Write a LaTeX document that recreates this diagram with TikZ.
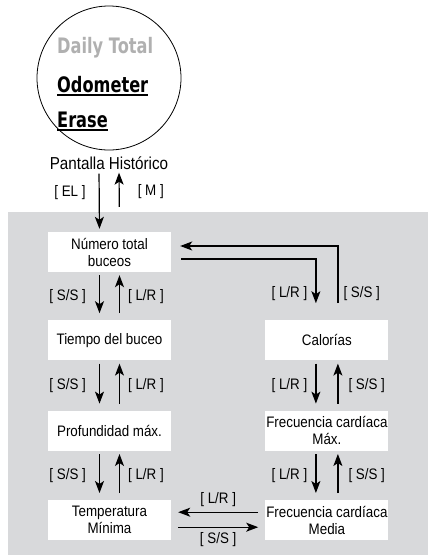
\documentclass[tikz,border=0pt]{standalone}
\usepackage{fontspec}
\setmainfont[FakeStretch=0.88]{Liberation Sans}
\newfontfamily\lcdfont[FakeStretch=0.76]{DejaVu Sans}
\usepackage{tikz}
\usetikzlibrary{arrows.meta,
                positioning}
\definecolor{panel}{RGB}{216,217,219}
\definecolor{lcdgray}{RGB}{176,176,176}
\tikzstyle{arrow} = [line width=1.2pt,-{Stealth[length=12pt,width=9pt,inset=3pt]}]
\tikzstyle{box} = [fill=white, minimum width=123pt, minimum height=40pt, inner sep=0pt, align=center, font=\fontsize{15.2}{17}\selectfont]
\tikzstyle{lbl} = [inner sep=0pt, font=\fontsize{15.2}{17}\selectfont]
\tikzstyle{lcd} = [anchor=base west, inner sep=0pt, font=\lcdfont\bfseries\fontsize{21.3}{22}\selectfont]

\begin{document}
\begin{tikzpicture}[x=1pt,y=-1pt]
        \useasboundingbox (0,0) rectangle (428,555);
        \fill[panel] (8,212) rectangle (428,555);

        % display
        \node[circle, draw, line width=0.8pt, minimum size=144pt] (disp) at (109,78) {};
        \node[lcd, text=lcdgray] (l1) at (57,53) {Daily Total};
        \node[lcd] (l2) at (57,92) {Odometer};
        \node[lcd] (l3) at (57,127) {Erase};
        \draw[line width=1.8pt] ([yshift=-3pt]l2.base west) -- ([yshift=-3pt]l2.base east);
        \draw[line width=1.8pt] ([yshift=-3pt]l3.base west) -- ([yshift=-3pt]l3.base east);
        \node[inner sep=0pt, font=\fontsize{17.3}{20}\selectfont] (hist) at (109,163) {Pantalla Histórico};

        % screens
        \node[box] (h1) at (109.5,252) {Número total\\buceos};
        \node[box, below=48pt of h1] (h2) {Tiempo del buceo};
        \node[box, below=50pt of h2] (h3) {Profundidad máx.};
        \node[box, below=49pt of h3] (h4) {Temperatura\\Mínima};
        \node[box, right=94pt of h2] (h5) {Calorías};
        \node[box, below=50pt of h5] (h6) {Frecuencia cardíaca\\Máx.};
        \node[box, below=49pt of h6] (h7) {Frecuencia cardíaca\\Media};

        \draw[arrow, shorten <=4pt, shorten >=3pt] ([xshift=-10pt]hist.south) -- ([xshift=-10pt]h1.north) node[lbl, pos=0.37, left=13pt] {[ EL ]};
        \draw[arrow, shorten <=25pt, shorten >=3pt] ([xshift=10pt]h1.north) -- ([xshift=10pt]hist.south) node[lbl, pos=0.64, right=18pt] {[ M ]};

        \draw[arrow, shorten <=3pt, shorten >=7pt] ([xshift=-10pt]h1.south) -- ([xshift=-10pt]h2.north) node[lbl, midway, left=13pt] {[ S/S ]};
        \draw[arrow, shorten <=7pt, shorten >=3pt] ([xshift=10pt]h2.north) -- ([xshift=10pt]h1.south) node[lbl, midway, right=8pt] {[ L/R ]};
        \draw[arrow, shorten <=3pt, shorten >=7pt] ([xshift=-10pt]h2.south) -- ([xshift=-10pt]h3.north) node[lbl, midway, left=13pt] {[ S/S ]};
        \draw[arrow, shorten <=7pt, shorten >=3pt] ([xshift=10pt]h3.north) -- ([xshift=10pt]h2.south) node[lbl, midway, right=8pt] {[ L/R ]};
        \draw[arrow, shorten <=3pt, shorten >=7pt] ([xshift=-10pt]h3.south) -- ([xshift=-10pt]h4.north) node[lbl, midway, left=13pt] {[ S/S ]};
        \draw[arrow, shorten <=7pt, shorten >=3pt] ([xshift=10pt]h4.north) -- ([xshift=10pt]h3.south) node[lbl, midway, right=8pt] {[ L/R ]};

        \draw[arrow, shorten <=10pt, shorten >=17pt] ([yshift=-7pt]h1.east) -| ([xshift=-11pt]h5.north) node[lbl, pos=0.78, left=8pt] {[ L/R ]};
        \draw[arrow, shorten <=17pt, shorten >=9pt] ([xshift=11pt]h5.north) |- ([yshift=6pt]h1.east) node[lbl, pos=0.18, right=5pt] {[ S/S ]};

        \draw[arrow, shorten <=3pt, shorten >=7pt] ([xshift=-11pt]h5.south) -- ([xshift=-11pt]h6.north) node[lbl, midway, left=8pt] {[ L/R ]};
        \draw[arrow, shorten <=7pt, shorten >=3pt] ([xshift=11pt]h6.north) -- ([xshift=11pt]h5.south) node[lbl, midway, right=10pt] {[ S/S ]};
        \draw[arrow, shorten <=3pt, shorten >=7pt] ([xshift=-11pt]h6.south) -- ([xshift=-11pt]h7.north) node[lbl, midway, left=8pt] {[ L/R ]};
        \draw[arrow, shorten <=7pt, shorten >=3pt] ([xshift=11pt]h7.north) -- ([xshift=11pt]h6.south) node[lbl, midway, right=10pt] {[ S/S ]};

        \draw[arrow, shorten <=7pt, shorten >=7pt] ([yshift=8pt]h7.west) -- ([yshift=8pt]h4.east) node[lbl, midway, above=5pt] {[ L/R ]};
        \draw[arrow, shorten <=7pt, shorten >=7pt] ([yshift=-7pt]h4.east) -- ([yshift=-7pt]h7.west) node[lbl, midway, below=5pt] {[ S/S ]};
    \end{tikzpicture}
\end{document}
